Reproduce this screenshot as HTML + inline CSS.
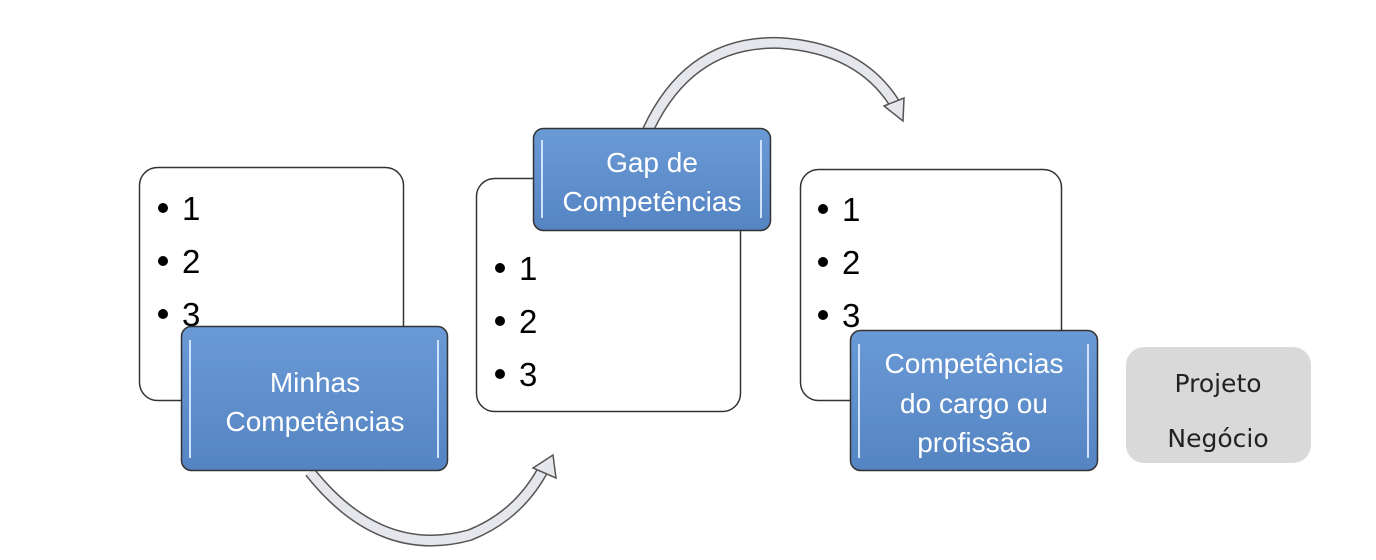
<!DOCTYPE html>
<html><head><meta charset="utf-8"><style>
body{margin:0;background:#fff;width:1376px;height:560px;overflow:hidden}
svg{display:block}
.b{font-family:"Liberation Sans",sans-serif;font-size:33px;fill:#000}
.w{font-family:"Liberation Sans",sans-serif;font-size:28px;fill:#fff}
</style></head><body>
<svg width="1376" height="560" viewBox="0 0 1376 560">
<defs>
<linearGradient id="g" x1="0" y1="0" x2="0" y2="1"><stop offset="0" stop-color="#6a9ad6"/><stop offset="1" stop-color="#5584c2"/></linearGradient>
</defs>
<path d="M310 472 Q380 560 470 535 Q520 515 545 466" fill="none" stroke="#555" stroke-width="12"/>
<path d="M310 472 Q380 560 470 535 Q520 515 545 466" fill="none" stroke="#e6e7ec" stroke-width="9"/>
<polygon points="533,468 553,455 556,478" fill="#e6e7ec" stroke="#555" stroke-width="1.5"/>
<path d="M648 130 Q690 40 780 43 Q860 48 895 104" fill="none" stroke="#555" stroke-width="12"/>
<path d="M648 130 Q690 40 780 43 Q860 48 895 104" fill="none" stroke="#e6e7ec" stroke-width="9"/>
<polygon points="884,106 904,98 903,121" fill="#e6e7ec" stroke="#555" stroke-width="1.5"/>
<rect x="139.5" y="167.5" width="264" height="233" rx="18" fill="#fff" stroke="#333" stroke-width="1.5"/>
<rect x="476.5" y="178.5" width="264" height="233" rx="18" fill="#fff" stroke="#333" stroke-width="1.5"/>
<rect x="800.5" y="169.5" width="261" height="231" rx="18" fill="#fff" stroke="#333" stroke-width="1.5"/>
<g fill="#000">
<circle cx="163" cy="208" r="5"/><circle cx="163" cy="261" r="5"/><circle cx="163" cy="314" r="5"/>
<circle cx="500" cy="268" r="5"/><circle cx="500" cy="321" r="5"/><circle cx="500" cy="374" r="5"/>
<circle cx="823" cy="209" r="5"/><circle cx="823" cy="262" r="5"/><circle cx="823" cy="315" r="5"/>
</g>
<g class="b">
<text x="182" y="220">1</text><text x="182" y="273">2</text><text x="182" y="326">3</text>
<text x="519" y="280">1</text><text x="519" y="333">2</text><text x="519" y="386">3</text>
<text x="842" y="221">1</text><text x="842" y="274">2</text><text x="842" y="327">3</text>
</g>
<rect x="181.5" y="326.5" width="266" height="144" rx="10" fill="url(#g)" stroke="#333" stroke-width="1.5"/>
<rect x="533.5" y="128.5" width="237" height="102" rx="10" fill="url(#g)" stroke="#333" stroke-width="1.5"/>
<rect x="850.5" y="330.5" width="247" height="140" rx="10" fill="url(#g)" stroke="#333" stroke-width="1.5"/>
<g stroke="#cfe3ff" stroke-width="2">
<line x1="190" y1="340" x2="190" y2="458"/><line x1="438" y1="340" x2="438" y2="458"/>
<line x1="542" y1="140" x2="542" y2="218"/><line x1="761" y1="140" x2="761" y2="218"/>
<line x1="859" y1="344" x2="859" y2="458"/><line x1="1088" y1="344" x2="1088" y2="458"/>
</g>
<g class="w" text-anchor="middle">
<text x="315" y="392">Minhas</text><text x="315" y="431">Competências</text>
<text x="652" y="172">Gap de</text><text x="652" y="211">Competências</text>
<text x="974" y="373">Competências</text><text x="974" y="413">do cargo ou</text><text x="974" y="452">profissão</text>
</g>
<rect x="1126" y="347" width="185" height="116" rx="18" fill="#d9d9d9"/>
<g text-anchor="middle" font-family="'DejaVu Sans',sans-serif" font-size="25" fill="#222">
<text x="1218" y="392">Projeto</text><text x="1218" y="447">Negócio</text>
</g>
</svg>
</body></html>
